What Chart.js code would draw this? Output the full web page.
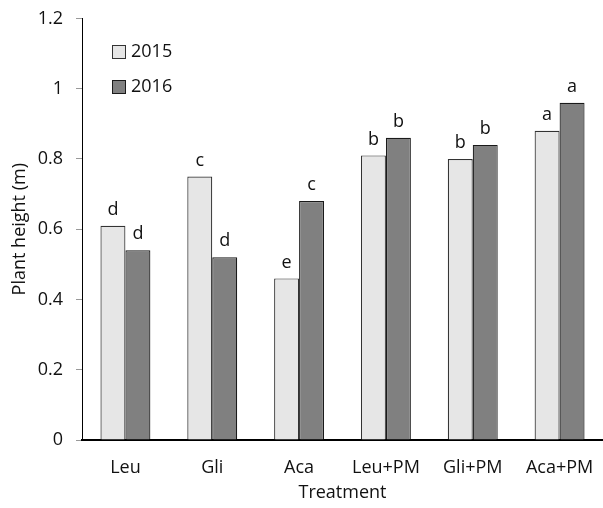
<!DOCTYPE html>
<html>
<head>
<meta charset="utf-8">
<script src="https://cdn.jsdelivr.net/npm/chart.js@4"></script>
<style>
  html, body { margin: 0; padding: 0; background: #fff; }
  #wrap { width: 603px; height: 508px; }
</style>
</head>
<body>
<div id="wrap"><canvas id="chart" width="603" height="508"></canvas></div>
<script>
var treatments = ['Leu', 'Gli', 'Aca', 'Leu+PM', 'Gli+PM', 'Aca+PM'];
var years = ['2015', '2016'];
var height2015 = [0.61, 0.75, 0.46, 0.81, 0.80, 0.88];
var height2016 = [0.54, 0.52, 0.68, 0.86, 0.84, 0.96];
var letters2015 = ['d', 'c', 'e', 'b', 'b', 'a'];
var letters2016 = ['d', 'd', 'c', 'b', 'b', 'a'];

var fontFam = '"Open Sans", sans-serif';
var fs = 18;
var txt = '#111';

// letters over the bars
var letterPlugin = {
    id: 'letters',
    afterDatasetsDraw: function(chart) {
        var ctx = chart.ctx;
        ctx.save();
        ctx.font = fs + 'px ' + fontFam;
        ctx.fillStyle = txt;
        ctx.textAlign = 'center';
        ctx.textBaseline = 'bottom';
        chart.data.datasets.forEach(function(ds, i) {
            var meta = chart.getDatasetMeta(i);
            meta.data.forEach(function(bar, j) {
                ctx.fillText(ds.letters[j], bar.x, bar.y - 7);
            });
        });
        ctx.restore();
    }
};

// legend top-left inside plot
var legendPlugin = {
    id: 'boxLegend',
    afterDraw: function(chart) {
        var ctx = chart.ctx;
        ctx.save();
        ctx.font = fs + 'px ' + fontFam;
        ctx.textBaseline = 'middle';
        chart.data.datasets.forEach(function(ds, i) {
            var y = 52 + i * 35;
            ctx.fillStyle = ds.backgroundColor;
            ctx.strokeStyle = ds.borderColor;
            ctx.lineWidth = 1;
            ctx.fillRect(112.5, y - 6.5, 13, 13);
            ctx.strokeRect(112.5, y - 6.5, 13, 13);
            ctx.fillStyle = txt;
            ctx.fillText(ds.label, 131, y);
        });
        ctx.restore();
    }
};

var ctx = document.getElementById('chart');
var chart = new Chart(ctx, {
    type: 'bar',
    data: {
        labels: treatments,
        datasets: [{
            label: years[0],
            data: height2015,
            letters: letters2015,
            backgroundColor: '#e6e6e6',
            borderColor: '#333',
            borderWidth: 1.2,
            categoryPercentage: 0.575,
            barPercentage: 1
        }, {
            label: years[1],
            data: height2016,
            letters: letters2016,
            backgroundColor: '#808080',
            borderColor: '#1a1a1a',
            borderWidth: 1.2,
            categoryPercentage: 0.575,
            barPercentage: 1
        }]
    },
    options: {
        responsive: false,
        animation: false,
        layout: { padding: { top: 17, right: 0, left: 0, bottom: 0 } },
        plugins: {
            legend: { display: false },
            tooltip: { enabled: false }
        },
        scales: {
            x: {
                grid: { display: false },
                border: { color: '#000', width: 2 },
                ticks: { color: txt, font: { family: fontFam, size: fs }, padding: 9, maxRotation: 0 },
                title: { display: true, text: 'Treatment', color: txt, font: { family: fontFam, size: fs }, padding: { top: 0 } },
                afterFit: function(s) { s.height = 68; }
            },
            y: {
                min: 0,
                max: 1.2,
                ticks: {
                    stepSize: 0.2,
                    color: txt,
                    font: { family: fontFam, size: fs, lineHeight: 0.6 },
                    padding: 13,
                    callback: function(v) { return String(Math.round(v * 10) / 10); }
                },
                grid: { drawOnChartArea: false, tickLength: 6, color: '#999' },
                border: { color: '#000', width: 1 },
                title: { display: true, text: 'Plant height (m)', color: txt, font: { family: fontFam, size: fs }, padding: { top: 9, bottom: 0 } },
                afterFit: function(s) { s.width = 82; }
            }
        }
    },
    plugins: [letterPlugin, legendPlugin]
});
</script>
</body>
</html>
